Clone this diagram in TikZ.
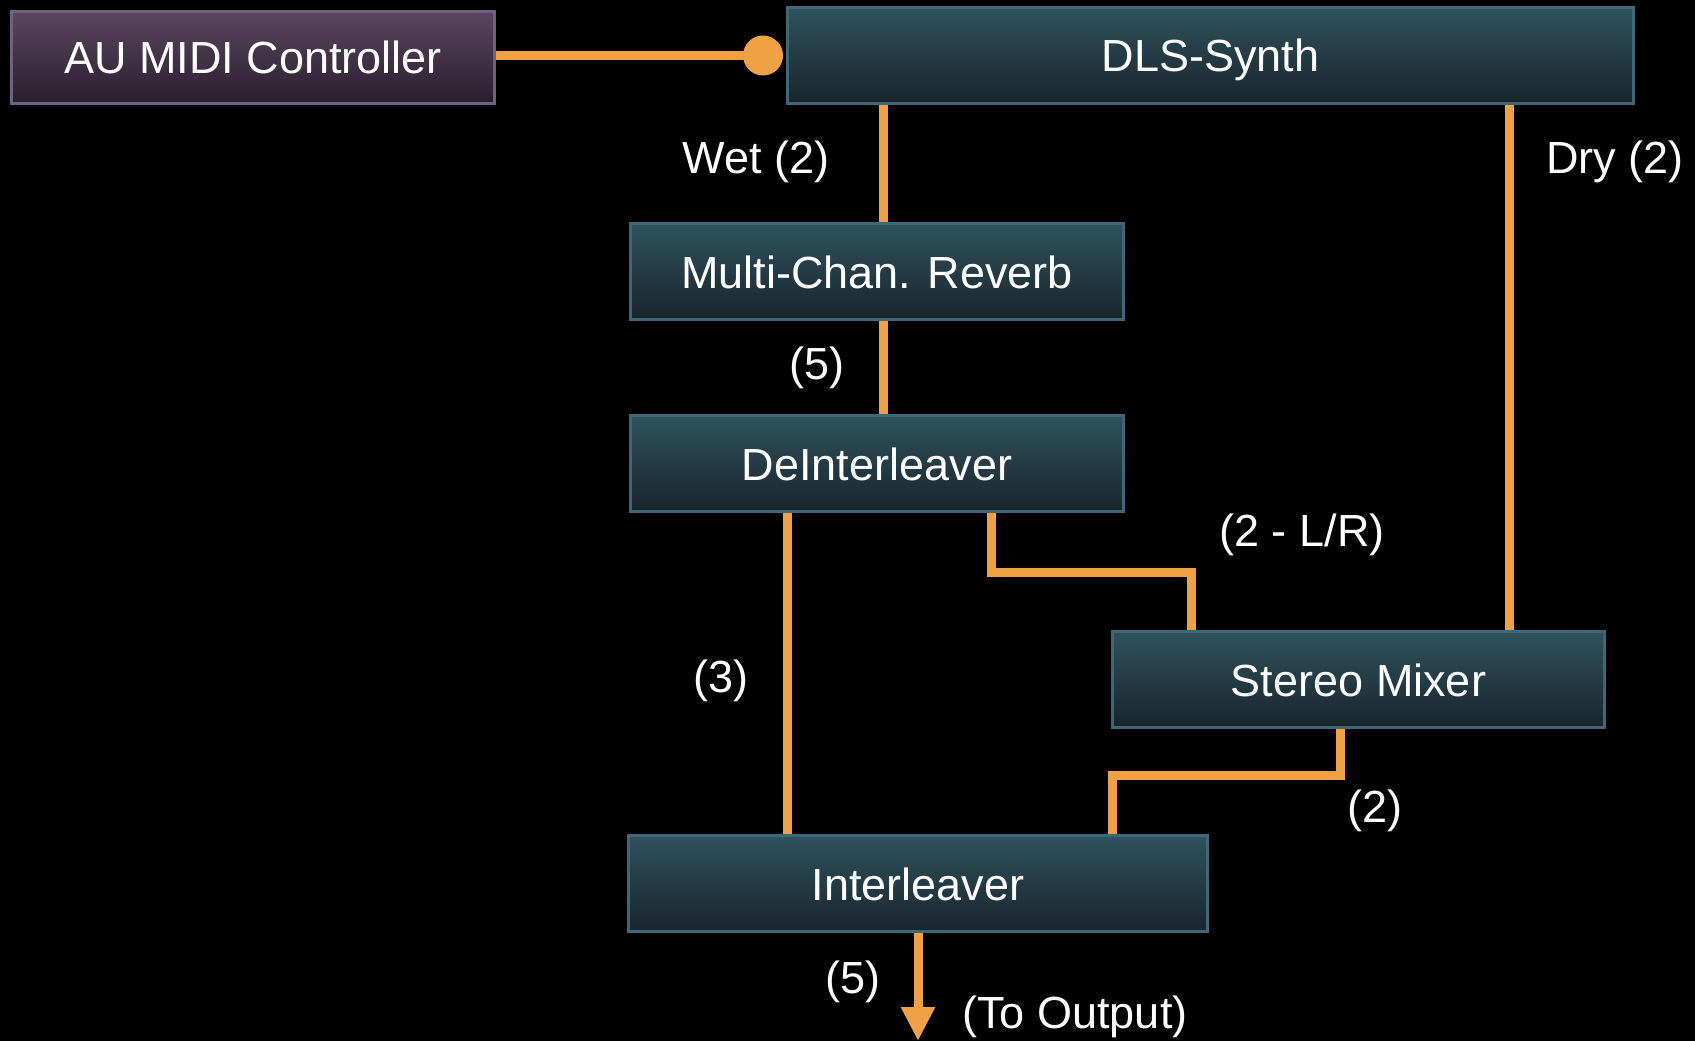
\documentclass[tikz,border=0pt]{standalone}
\usepackage{fontspec}
\setmainfont{Liberation Sans}
\usetikzlibrary{calc,arrows.meta}

\definecolor{wireorange}{HTML}{EFA144}
\definecolor{unitborder}{HTML}{3E6877}
\definecolor{unittop}{HTML}{2F525E}
\definecolor{unitbot}{HTML}{18252C}
\definecolor{ctrlborder}{HTML}{735F7E}
\definecolor{ctrltop}{HTML}{5A4660}
\definecolor{ctrlbot}{HTML}{291E2D}

\tikzset{
  unit/.style={draw=unitborder,line width=3pt,top color=unittop,bottom color=unitbot,
    text=white,font=\fontsize{45pt}{54pt}\selectfont,minimum height=96pt,inner sep=0pt,
    text height=33pt,text depth=0pt},
  ctrlbox/.style={unit,draw=ctrlborder,top color=ctrltop,bottom color=ctrlbot,minimum height=92pt},
  wire/.style={draw=wireorange,line width=9pt},
  lbl/.style={text=white,font=\fontsize{45pt}{54pt}\selectfont,inner sep=0pt}
}

\begin{document}
\begin{tikzpicture}[x=1pt,y=-1pt]
\fill[black] (0,0) rectangle (1695,1041);
\useasboundingbox (0,0) rectangle (1695,1041);

\node[ctrlbox,minimum width=483pt] (ctrl) at (253,57.5) {AU MIDI Controller};
\node[unit,minimum width=846pt] (synth) at (1210.5,55.5) {DLS-Synth};
\node[unit,minimum width=493pt] (reverb) at (877,271.5) {Multi-Chan. Reverb};
\node[unit,minimum width=493pt] (deint) at (877,463.5) {DeInterleaver};
\node[unit,minimum width=492pt] (mixer) at (1358.5,679.5) {Stereo Mixer};
\node[unit,minimum width=579pt] (inter) at (918,883.5) {Interleaver};

% wire columns and bends
\coordinate (dot) at ([xshift=-23pt]synth.west);
\coordinate (wet) at (883,0);
\coordinate (dry) at (1509,0);
\coordinate (lr) at (991,0);
\coordinate (lrbend) at (1191,572);
\coordinate (three) at (787,0);
\coordinate (mixout) at (1340,0);
\coordinate (mixbend) at (1112,775);
\coordinate (out) at (918,1041);

\draw[wire] (ctrl.east |- dot) -- (dot);
\fill[wireorange] (dot) circle (20pt);
\draw[wire] (synth.south -| wet) -- (reverb.north -| wet);
\draw[wire] (reverb.south -| wet) -- (deint.north -| wet);
\draw[wire] (synth.south -| dry) -- (mixer.north -| dry);
\draw[wire] (deint.south -| lr) |- (lrbend) -- (mixer.north -| lrbend);
\draw[wire] (deint.south -| three) -- (inter.north -| three);
\draw[wire] (mixer.south -| mixout) |- (mixbend) -- (inter.north -| mixbend);
\draw[wire,-{Triangle[length=34pt,width=32pt]}] (inter.south) -- (out);

\node[lbl] (wetlbl) at (756,162) {Wet (2)};
\node[lbl] (drylbl) at (1615,162) {Dry (2)};
\node[lbl] (revlbl) at (817,368) {(5)};
\node[lbl] (lrlbl) at (1302,535) {(2 - L/R)};
\node[lbl] (threelbl) at (721,681) {(3)};
\node[lbl] (mixlbl) at (1375,811) {(2)};
\node[lbl] (outlbl) at (853,982) {(5)};
\node[lbl] (tolbl) at (1075,1017) {(To Output)};
\end{tikzpicture}
\end{document}
